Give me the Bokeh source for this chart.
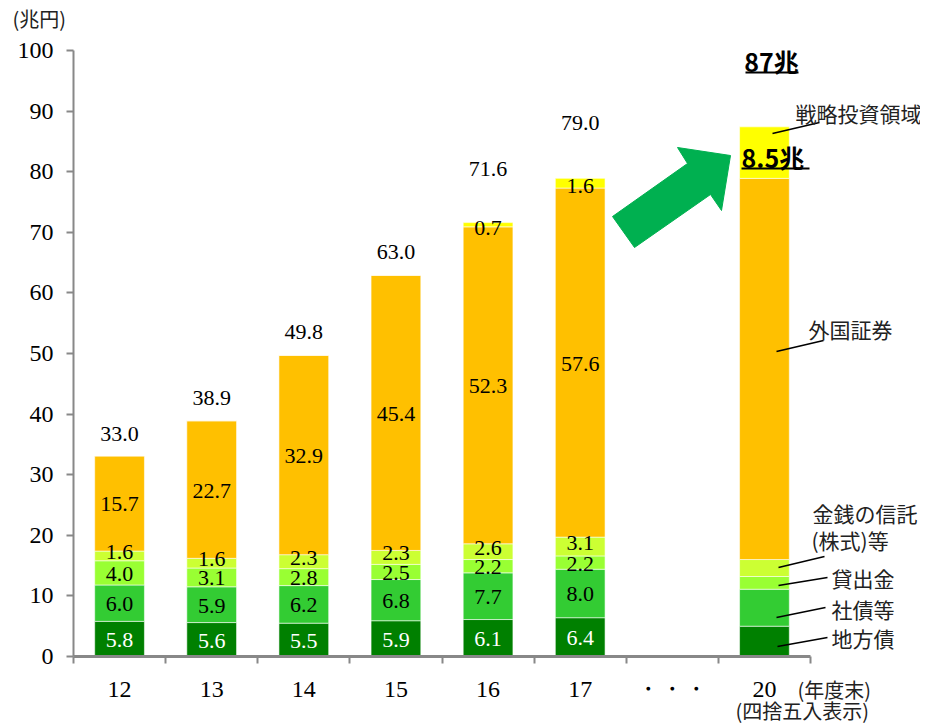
from bokeh.plotting import figure
from bokeh.models import ColumnDataSource, FixedTicker, Range1d
from bokeh.core.properties import value
from bokeh.embed import file_html
from bokeh.resources import INLINE

# ---------------- data ----------------
axis_labels = ["12", "13", "14", "15", "16", "17", "・・・", "20"]
years = ["12", "13", "14", "15", "16", "17", "20"]
series_names = ["地方債", "社債等", "貸出金", "金銭の信託(株式)等", "外国証券", "戦略投資領域"]
chihosai = [5.8, 5.6, 5.5, 5.9, 6.1, 6.4, 5.0]
shasai = [6.0, 5.9, 6.2, 6.8, 7.7, 8.0, 6.1]
kashidashi = [4.0, 3.1, 2.8, 2.5, 2.2, 2.2, 2.1]
kinsen = [1.6, 1.6, 2.3, 2.3, 2.6, 3.1, 2.8]
gaikoku = [15.7, 22.7, 32.9, 45.4, 52.3, 57.6, 62.9]
senryaku = [0.0, 0.0, 0.0, 0.0, 0.7, 1.6, 8.5]
total_labels = ["33.0", "38.9", "49.8", "63.0", "71.6", "79.0"]
y_ticks = list(range(0, 101, 10))
total_2020 = "87兆"
senryaku_2020 = "8.5兆"

colors = ["#008000", "#33CC33", "#99FF33", "#CCFF33", "#FFC000", "#FFFF00"]
SERIF = "'Liberation Serif', 'Times New Roman', serif"
JP = "'Noto Sans CJK JP', sans-serif"

# ------------- geometry helpers (reference px -> data) -------------
PX_PER_X = 92.125
PX_PER_Y = 6.06


def px_x(px):
    return 0.5 + (px - 73) / PX_PER_X


def px_y(py):
    return (656 - py) / PX_PER_Y


W, H = 920, 726

p = figure(width=W, height=H, output_backend="svg", toolbar_location=None,
           x_range=Range1d(px_x(0), px_x(W)), y_range=Range1d(px_y(H), px_y(0)),
           min_border=0, min_border_left=0, min_border_right=0,
           min_border_top=0, min_border_bottom=0, title=None)
p.outline_line_color = None
p.xgrid.visible = False
p.ygrid.visible = False
p.background_fill_color = "white"

xpos = [axis_labels.index(y) + 1 for y in years]
series = [chihosai, shasai, kashidashi, kinsen, gaikoku, senryaku]
keys = ["s%d" % i for i in range(len(series))]
src = ColumnDataSource(dict(x=xpos, **{k: v for k, v in zip(keys, series)}))
p.vbar_stack(keys, x="x", width=0.54, source=src, fill_color=colors,
             line_color="white", line_width=0.8, line_alpha=0.7)

# ------------- data labels -------------
n_lab = len(total_labels)
label_colors = ["white", "black", "black", "black", "black", "black"]
label_offsets = [1, 1, 1, -4, 1, 3]
cum = [0.0] * len(years)
for si, vals in enumerate(series):
    xs, ys, ts = [], [], []
    for i in range(n_lab):
        v = vals[i]
        if v > 0:
            xs.append(xpos[i])
            ys.append(cum[i] + v / 2)
            ts.append("%.1f" % v)
    for i in range(len(years)):
        cum[i] += vals[i]
    p.text(x=xs, y=ys, text=ts, text_align="center", text_baseline="middle",
           text_font=value(SERIF), text_font_size="22px",
           text_color=label_colors[si], y_offset=label_offsets[si])

total_gaps = [22, 23, 23, 23, 54, 55]
p.text(x=xpos[:n_lab], y=cum[:n_lab], text=total_labels,
       y_offset=[-g for g in total_gaps], text_align="center",
       text_baseline="middle", text_font=value(SERIF), text_font_size="22px",
       text_color="black")

# ------------- arrow -------------
arrow_px = [(612, 216), (687, 163), (677, 147), (730, 155), (721, 210), (710, 194), (634, 247)]
p.patch([px_x(a) for a, b in arrow_px], [px_y(b) for a, b in arrow_px],
        fill_color="#00B050", line_color="#00B050")

# ------------- 2020 callouts -------------
p.text(x=[px_x(771)], y=[px_y(60)], text=[total_2020], text_align="center",
       text_baseline="middle", text_font=value(JP), text_font_size="25px",
       text_font_style="bold", text_color="black")
p.text(x=[px_x(741)], y=[px_y(156)], text=[senryaku_2020], text_align="left",
       text_baseline="middle", text_font=value(JP), text_font_size="25px",
       text_font_style="bold", text_color="black")
ul = [(745, 798, 72), (741, 809, 168)]
p.segment(x0=[px_x(a) for a, b, c in ul], x1=[px_x(b) for a, b, c in ul],
          y0=[px_y(c) for a, b, c in ul], y1=[px_y(c) for a, b, c in ul],
          line_color="black", line_width=2)

# leader lines
leaders = [(772, 133, 819, 122), (776, 351, 823, 340), (778, 567, 824, 556),
           (778, 585, 827, 577), (776, 617, 825, 607), (777, 646, 827, 637)]
p.segment(x0=[px_x(l[0]) for l in leaders], y0=[px_y(l[1]) for l in leaders],
          x1=[px_x(l[2]) for l in leaders], y1=[px_y(l[3]) for l in leaders],
          line_color="black", line_width=1.6)

side_texts = [("戦略投資領域", 795, 112), ("外国証券", 808, 328), ("金銭の信託", 812, 512),
              ("(株式)等", 811, 539), ("貸出金", 831, 577), ("社債等", 831, 608),
              ("地方債", 831, 637)]
p.text(x=[px_x(t[1]) for t in side_texts], y=[px_y(t[2]) for t in side_texts],
       text=[t[0] for t in side_texts], text_align="left", text_baseline="middle",
       text_font=value(JP), text_font_size="21px", text_color="#222222")

# unit / footnote texts
notes = [("(兆円)", 12, 18), ("(年度末)", 797, 689), ("(四捨五入表示)", 735, 710)]
p.text(x=[px_x(t[1]) for t in notes], y=[px_y(t[2]) for t in notes],
       text=[t[0] for t in notes], text_align="left", text_baseline="middle",
       text_font=value(JP), text_font_size="20px", text_color="#222222")

# ------------- axes -------------
xa = p.xaxis[0]
xa.fixed_location = 0
xa.ticker = FixedTicker(ticks=[i + 1 for i in range(len(axis_labels))],
                        minor_ticks=[i + 0.5 for i in range(len(axis_labels) + 1)])
xa.major_label_overrides = {i + 1: lab for i, lab in enumerate(axis_labels)}
xa.bounds = (0.5, len(axis_labels) + 0.5)
xa.axis_line_color = "#888888"
xa.axis_line_width = 3
xa.major_tick_line_color = None
xa.major_tick_out = 0
xa.major_tick_in = 0
xa.minor_tick_line_color = "#888888"
xa.minor_tick_line_width = 2
xa.minor_tick_out = 7
xa.minor_tick_in = 0
xa.major_label_standoff = 12
xa.major_label_text_font = SERIF
xa.major_label_text_font_size = "24px"
xa.major_label_text_color = "black"

ya = p.yaxis[0]
ya.fixed_location = 0.5
ya.ticker = FixedTicker(ticks=y_ticks)
ya.bounds = (0, 100)
ya.axis_line_color = "#888888"
ya.axis_line_width = 2
ya.major_tick_line_color = "#888888"
ya.major_tick_line_width = 2
ya.major_tick_out = 7
ya.major_tick_in = 0
ya.minor_tick_line_color = None
ya.major_label_standoff = 13
ya.major_label_text_font = SERIF
ya.major_label_text_font_size = "24px"
ya.major_label_text_color = "black"

open("out.html", "w").write(file_html(p, INLINE))
